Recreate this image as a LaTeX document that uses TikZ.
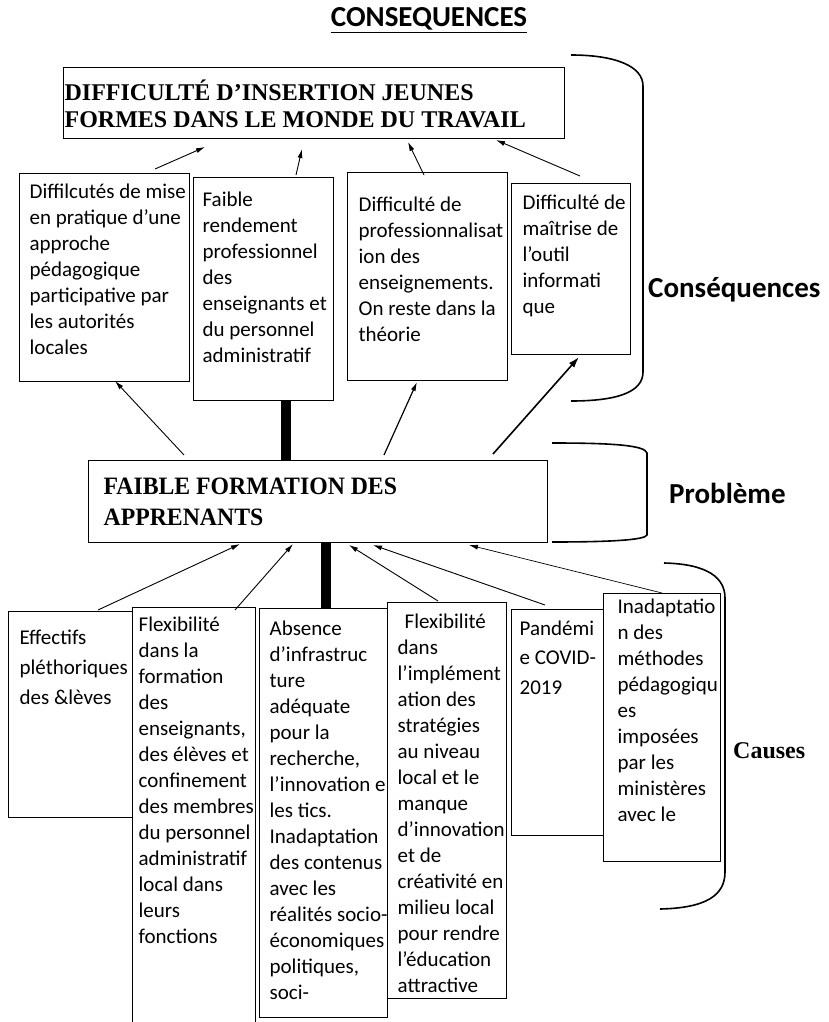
\documentclass[tikz,border=0pt]{standalone}
\usepackage{fontspec}
\setmainfont{Carlito}
\newfontfamily\tnr{Liberation Serif}
\newfontfamily\tnrn[FakeStretch=0.95]{Liberation Serif}
\usetikzlibrary{arrows.meta}
\newlength\tbW
\newlength\tbH
\newcommand\tbfont{\fontsize{21}{26}\selectfont}
% #1 name, #2 x1, #3 y1, #4 x2, #5 y2, #6 left pad, #7 top pad, #8 text
\newcommand\tbox[8]{%
  \pgfmathsetlength\tbW{#4-#2}%
  \pgfmathsetlength\tbH{#5-#3}%
  \node[tb] (#1) at (#2,#3) {\parbox[t][\tbH][t]{\tbW}{\tbfont\vspace*{#7pt}\leftskip=#6pt\rightskip=-80pt plus 1fil\noindent\strut #8}};}
\begin{document}
\begin{tikzpicture}[x=1pt,y=-1pt,
  tb/.style={draw, line width=1.3pt, anchor=north west, inner sep=0pt},
  arr/.style={-{Latex[length=9pt,width=5pt]}, line width=0.9pt},
  arrb/.style={-{Latex[length=11pt,width=7pt]}, line width=1.6pt},
  bar/.style={line width=10pt},
  brace/.style={line width=1.6pt},
  head/.style={inner sep=0pt, anchor=base west, font=\bfseries\fontsize{29}{34}\selectfont}]
\useasboundingbox (0,0) rectangle (828,1022);

\node[head, anchor=base] (title) at (429,27) {\underline{CONSEQUENCES}};

\renewcommand\tbfont{\tnr\bfseries\fontsize{24}{27}\selectfont}
\tbox{T}{63}{67}{564}{138}{1}{12}{DIFFICULTÉ D’INSERTION JEUNES\\FORMES DANS LE MONDE DU TRAVAIL}
\renewcommand\tbfont{\tnrn\bfseries\fontsize{25}{31}\selectfont}
\tbox{P}{88}{460}{547}{542}{15}{12.3}{FAIBLE FORMATION DES\\APPRENANTS}

\renewcommand\tbfont{\fontsize{21}{26}\selectfont}
\tbox{c1}{19}{173}{189}{381}{10}{6.8}{Diffilcutés de mise\\en pratique d’une\\approche\\pédagogique\\participative par\\les autorités\\locales}
\tbox{c2}{193}{177}{333}{400}{9}{10.8}{Faible\\rendement\\professionnel\\des\\enseignants et\\du personnel\\administratif}
\tbox{c3}{347}{172}{507}{380}{11}{20.8}{Difficulté de\\professionnalisat\\ion des\\enseignements.\\On reste dans la\\théorie}
\tbox{c4}{511}{183}{630}{354}{11}{7.8}{Difficulté de\\maîtrise de\\l’outil\\informati\\que}

\renewcommand\tbfont{\fontsize{21}{30}\selectfont}
\tbox{k1}{8}{611}{132}{817}{11}{12}{Effectifs\\pléthoriques\\des \&lèves}
\renewcommand\tbfont{\fontsize{21}{26}\selectfont}
\tbox{k2}{132}{607}{255}{1040}{6}{5.8}{Flexibilité\\dans la\\formation\\des\\enseignants,\\des élèves et\\confinement\\des membres\\du personnel\\administratif\\local dans\\leurs\\fonctions}
\tbox{k3}{259}{608}{387}{1017}{10}{8.8}{Absence\\d’infrastruc\\ture\\adéquate\\pour la\\recherche,\\l’innovation e\\les tics.\\Inadaptation\\des contenus\\avec les\\réalités socio-\\économiques\\politiques,\\soci-}
\tbox{k4}{387}{602}{506}{998}{10}{7.8}{\hspace*{7pt}Flexibilité\\dans\\l’implément\\ation des\\stratégies\\au niveau\\local et le\\manque\\d’innovation\\et de\\créativité en\\milieu local\\pour rendre\\l’éducation\\attractive}
\renewcommand\tbfont{\fontsize{21}{29.5}\selectfont}
\tbox{k5}{511}{609}{603}{835}{8}{4.7}{Pandémi\\e COVID-\\2019}
\renewcommand\tbfont{\fontsize{21}{26}\selectfont}
\tbox{k6}{603}{593}{720}{861}{14}{1.8}{Inadaptatio\\n des\\méthodes\\pédagogiqu\\es\\imposées\\par les\\ministères\\avec le}

% side labels
\node[head] (lc) at (648,297) {Conséquences};
\node[head] (lp) at (669,503) {Problème};
\node[inner sep=0pt, anchor=base west, font=\tnr\bfseries\fontsize{24}{28}\selectfont] (lk) at (733,758) {Causes};

% braces
\draw[brace] (571,55) .. controls (615,55) and (643,66) .. (643,86) -- (643,372) .. controls (643,393) and (615,401) .. (571,401);
\draw[brace] (552,443) .. controls (610,443) and (645,445) .. (647,453) -- (647,535) .. controls (645,540) and (610,542) .. (552,542);
\draw[brace] (664,563) .. controls (708,564) and (725,578) .. (725,598) -- (725,872) .. controls (725,896) and (705,908) .. (660,909);

% connector end points
\coordinate (a1s) at (155,169); \coordinate (a1e) at (205,147);
\coordinate (a2s) at (296,175); \coordinate (a2e) at (302,149);
\coordinate (a3s) at (424,175); \coordinate (a3e) at (408,142);
\coordinate (a4s) at (580,176); \coordinate (a4e) at (496,140);
\coordinate (m1s) at (184,455); \coordinate (m1e) at (115,381);
\coordinate (m3s) at (384,455); \coordinate (m3e) at (417,382);
\coordinate (m4s) at (493,454); \coordinate (m4e) at (579,357);
\coordinate (d1s) at (98,610);  \coordinate (d1e) at (240,544);
\coordinate (d2s) at (235,610); \coordinate (d2e) at (293,544);
\coordinate (d3s) at (438,601); \coordinate (d3e) at (349,545);
\coordinate (d4s) at (545,605); \coordinate (d4e) at (373,545);
\coordinate (d5s) at (662,593); \coordinate (d5e) at (469,545);
\coordinate (b1) at (286,0);
\coordinate (b2) at (326,0);

% consequences -> top box
\draw[arr] (a1s) -- (a1e);
\draw[arr] (a2s) -- (a2e);
\draw[arr] (a3s) -- (a3e);
\draw[arr] (a4s) -- (a4e);
% problem -> consequences
\draw[arr] (m1s) -- (m1e);
\draw[bar] (c2.south -| b1) -- (P.north -| b1);
\draw[arr, line width=1.2pt] (m3s) -- (m3e);
\draw[arrb] (m4s) -- (m4e);
% causes -> problem
\draw[arr] (d1s) -- (d1e);
\draw[arr] (d2s) -- (d2e);
\draw[bar] (P.south -| b2) -- (k3.north -| b2);
\draw[arr] (d3s) -- (d3e);
\draw[arr] (d4s) -- (d4e);
\draw[arr, line width=0.7pt] (d5s) -- (d5e);
\end{tikzpicture}
\end{document}
